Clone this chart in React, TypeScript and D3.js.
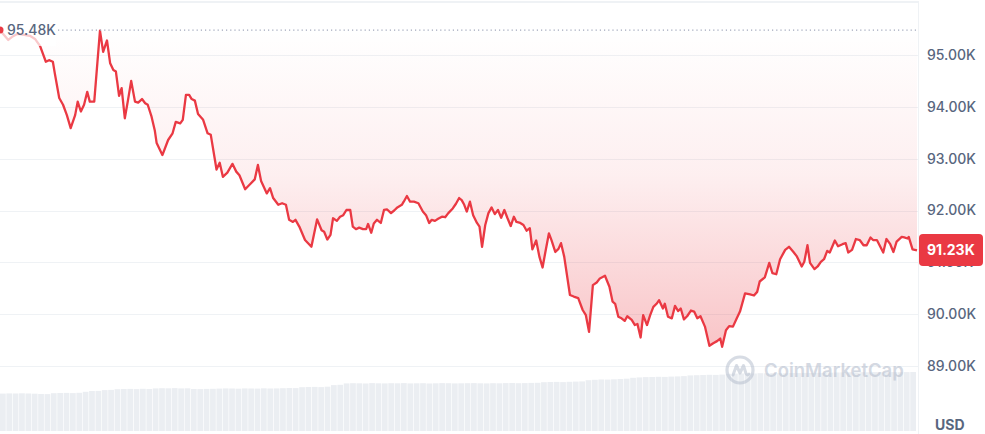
import React from "react";
import * as d3 from "d3";

// minutes since the start of the 24h window
const times = [0,6,13,19,28,38,47,55,63,72,77,83,86,93,99,105,111,118,122,127,132,137,141,148,157,162,168,173,178,182,187,191,196,201,206,212,217,223,228,232,238,243,246,255,264,271,276,283,287,292,297,301,306,311,319,326,331,340,345,350,357,365,371,376,385,393,400,405,410,419,424,429,437,443,449,454,460,464,470,479,489,498,505,509,514,519,523,529,534,539,544,550,554,559,564,570,575,578,583,587,592,598,603,608,614,619,624,631,634,639,644,650,657,664,669,674,678,683,688,694,699,704,711,716,721,725,729,733,738,743,749,753,757,762,767,772,777,782,787,792,797,802,807,811,817,822,827,832,836,842,847,852,856,862,866,872,877,881,886,895,901,908,915,920,925,931,937,942,950,957,962,966,971,976,981,985,992,997,1001,1006,1010,1016,1021,1026,1031,1035,1041,1044,1049,1055,1060,1065,1069,1074,1079,1085,1090,1095,1100,1107,1114,1120,1126,1131,1134,1140,1145,1151,1157,1162,1170,1178,1184,1189,1193,1201,1208,1213,1219,1225,1233,1239,1246,1251,1259,1263,1268,1272,1279,1284,1289,1294,1299,1303,1311,1316,1323,1328,1332,1338,1344,1350,1356,1361,1367,1371,1377,1382,1387,1392,1398,1403,1408,1416,1420,1425,1427,1433,1440];

// BTC price in thousands USD
const prices = [95.48,95.39,95.29,95.35,95.41,95.39,95.37,95.31,95.17,94.87,94.90,94.87,94.65,94.17,94.04,93.84,93.59,93.84,94.10,93.91,94.04,94.29,94.10,94.10,95.47,95.06,95.28,94.84,94.71,94.68,94.21,94.36,93.78,94.13,94.50,94.10,94.08,94.15,94.07,94.04,93.81,93.55,93.30,93.07,93.36,93.49,93.71,93.68,93.75,94.23,94.23,94.15,94.12,93.86,93.75,93.49,93.46,92.79,92.92,92.65,92.73,92.90,92.75,92.68,92.41,92.51,92.60,92.88,92.57,92.33,92.43,92.24,92.11,92.14,92.11,91.82,91.78,91.82,91.69,91.43,91.30,91.83,91.62,91.59,91.44,91.53,91.85,91.80,91.88,91.91,92.01,92.01,91.69,91.64,91.67,91.64,91.64,91.74,91.57,91.75,91.82,91.76,92.01,92.02,91.95,92.00,92.06,92.11,92.17,92.28,92.17,92.17,92.14,91.98,91.91,91.76,91.82,91.80,91.84,91.88,91.87,91.95,92.04,92.13,92.24,92.20,92.11,91.98,92.17,91.91,91.76,91.69,91.30,91.72,91.95,92.06,91.93,92.01,91.86,92.01,91.85,91.70,91.88,91.78,91.76,91.72,91.61,91.66,91.25,91.42,91.11,90.90,91.17,91.56,91.43,91.20,91.26,91.37,91.11,90.37,90.34,90.31,90.08,89.98,89.66,90.56,90.61,90.69,90.74,90.53,90.24,90.20,89.95,89.92,89.87,89.96,89.89,89.79,89.81,89.55,89.98,89.79,89.98,90.14,90.20,90.27,90.11,90.20,89.95,89.92,90.16,90.06,90.11,89.90,89.96,90.07,90.05,89.92,89.96,89.76,89.39,89.44,89.48,89.53,89.37,89.69,89.77,89.76,89.92,90.05,90.40,90.38,90.36,90.43,90.63,90.71,90.99,90.79,90.77,91.06,91.24,91.30,91.20,91.12,90.92,91.01,91.33,90.99,90.87,90.92,91.01,91.06,91.22,91.19,91.42,91.31,91.35,91.37,91.19,91.24,91.45,91.43,91.33,91.33,91.48,91.43,91.43,91.31,91.19,91.45,91.35,91.20,91.40,91.49,91.48,91.46,91.49,91.25,91.23];

// 24h rolling volume, billions USD (one bar per 10 minutes)
const volumes = [37.4,37.6,37.5,37.7,37.5,37.3,37.0,36.9,37.8,38.0,38.1,37.9,38.2,39.2,40.0,40.1,40.9,41.1,41.8,42.0,42.1,41.9,42.2,42.0,42.6,42.8,42.7,42.9,42.6,42.7,42.0,41.9,42.1,42.2,42.4,42.6,42.5,42.3,42.6,42.5,42.4,42.7,42.5,42.6,42.8,43.0,42.9,43.8,44.0,44.1,43.9,44.3,45.9,46.2,47.6,47.8,47.7,47.5,47.9,47.7,47.6,47.8,47.7,47.9,47.6,47.7,47.8,47.5,47.7,47.9,47.8,47.6,47.7,47.8,47.9,47.7,47.6,47.8,47.7,47.9,48.0,47.8,47.9,48.1,48.2,48.8,49.0,49.1,48.9,49.2,49.4,49.6,50.8,51.2,51.5,51.4,51.7,52.0,52.3,53.2,53.6,53.9,54.0,54.2,54.1,54.4,54.6,54.9,55.6,55.8,56.0,56.2,56.1,56.4,57.2,57.4,57.5,57.6,57.5,57.8,57.7,57.9,57.8,57.7,58.0,57.9,58.1,58.0,58.2,58.1,58.3,58.5,58.6,58.7,58.6,58.8,58.7,58.9,58.8,58.7,58.9,58.8,58.9,59.0];

const yTicks = [95, 94, 93, 92, 91, 90, 89];
const openPrice = 95.48;
const lastPrice = 91.23;
const currency = "USD";
const watermark = "CoinMarketCap";

const W = 985;
const H = 434;
const PLOT_R = 918;
const RED = "#ea3943";
const GRAY = "#58667e";
const FONT = "Inter, 'Noto Sans', sans-serif";

export default function App() {
  const n = Math.min(times.length, prices.length);
  const data = d3.range(n).map((i) => ({ t: times[i], p: prices[i] }));

  const x = d3.scaleLinear().domain([0, 1440]).range([0, 917]);
  const y = d3.scaleLinear().domain([89, 95]).range([366, 55]);
  const xb = d3
    .scaleBand<number>()
    .domain(d3.range(volumes.length))
    .range([0, 916])
    .paddingInner(0.1);
  const yv = d3.scaleLinear().domain([0, 60]).range([431, 371]);

  const line = d3
    .line<{ t: number; p: number }>()
    .x((d) => x(d.t))
    .y((d) => y(d.p));
  const area = d3
    .area<{ t: number; p: number }>()
    .x((d) => x(d.t))
    .y0(y(openPrice))
    .y1((d) => y(d.p));

  const fmt = (v: number) => v.toFixed(2) + "K";

  return (
    <svg
      width={W}
      height={H}
      style={{ position: "absolute", left: 0, top: 0, background: "#fff" }}
      fontFamily={FONT}
    >
      <defs>
        <linearGradient id="fillGrad" gradientUnits="userSpaceOnUse" x1={0} y1={y(openPrice)} x2={0} y2={y(89.3)}>
          <stop offset="0%" stopColor={RED} stopOpacity={0} />
          <stop offset="45%" stopColor={RED} stopOpacity={0.08} />
          <stop offset="100%" stopColor={RED} stopOpacity={0.3} />
        </linearGradient>
      </defs>

      {/* frame */}
      <line x1={0} x2={PLOT_R + 1} y1={2} y2={2} stroke="#eff2f5" strokeWidth={2} />
      <line x1={PLOT_R + 0.5} x2={PLOT_R + 0.5} y1={2} y2={H} stroke="#eff2f5" strokeWidth={1} />

      {/* grid */}
      {yTicks.map((v) => (
        <line key={v} x1={0} x2={PLOT_R} y1={Math.round(y(v)) + 0.5} y2={Math.round(y(v)) + 0.5} stroke="#eff2f5" strokeWidth={1} />
      ))}

      {/* volume bars */}
      {volumes.map((v, i) => (
        <rect key={i} x={xb(i)} width={xb.bandwidth()} y={yv(v)} height={yv(0) - yv(v)} fill="#ebeef2" />
      ))}

      {/* watermark */}
      <g transform="translate(740,370)" opacity={0.55}>
        <circle r={13} fill="none" stroke="#b8c0cf" strokeWidth={3.2} />
        <path d="M -7 5 L -3.5 -4.5 L 0 3 L 3.5 -4.5 L 6 3.5 Q 7 6 9 4" fill="none" stroke="#b8c0cf" strokeWidth={3} strokeLinejoin="round" strokeLinecap="round" />
      </g>
      <text x={764} y={377} fontSize={18.5} fontWeight={600} fill="#b8c0cf" opacity={0.6}>
        {watermark}
      </text>

      {/* area + line */}
      <path d={area(data) || ""} fill="url(#fillGrad)" />
      <path d={line(data) || ""} fill="none" stroke={RED} strokeWidth={2.3} strokeLinejoin="round" />

      {/* open price reference */}
      <line x1={58} x2={PLOT_R} y1={y(openPrice)} y2={y(openPrice)} stroke="#a1a7bb" strokeWidth={1.2} strokeDasharray="1.2,3" />
      <rect x={0} y={19} width={56} height={27} fill="#fff" opacity={0.72} />
      <circle cx={0} cy={y(openPrice)} r={3.5} fill={RED} />
      <text x={7} y={y(openPrice)} dy="0.35em" fontSize={14} fontWeight={500} fill={GRAY}>
        {fmt(openPrice)}
      </text>

      {/* y axis labels */}
      {yTicks.map((v) => (
        <text key={v} x={927} y={y(v)} dy="0.35em" fontSize={14} fontWeight={500} fill={GRAY}>
          {fmt(v)}
        </text>
      ))}

      {/* current price badge */}
      <rect x={919} y={y(lastPrice) - 16.5} width={64} height={32} rx={4} fill={RED} />
      <text x={927} y={y(lastPrice)} dy="0.35em" fontSize={14} fontWeight={700} fill="#fff">
        {fmt(lastPrice)}
      </text>

      <text x={935} y={425} dy="0.35em" fontSize={14} fontWeight={700} fill={GRAY}>
        {currency}
      </text>
    </svg>
  );
}
